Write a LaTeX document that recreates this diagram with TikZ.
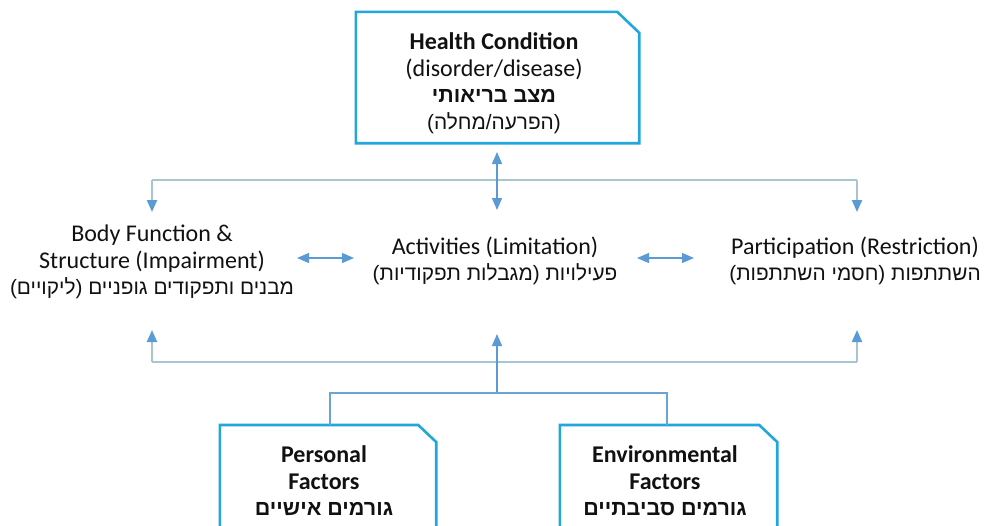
\documentclass[tikz,border=0pt]{standalone}
\usepackage{fontspec}
\setmainfont{Carlito}
\newfontfamily\heb[Script=Hebrew]{Liberation Sans}
\TeXXeTstate=1
\usetikzlibrary{arrows.meta}
\definecolor{boxc}{HTML}{22A7DC}
\definecolor{arr}{HTML}{5B9BD5}
\definecolor{lin}{HTML}{A8C6D2}
\definecolor{txt}{HTML}{111111}
\tikzset{
  lbl/.style={align=center, text=txt, inner sep=0pt, font=\fontsize{24}{26.5}\selectfont},
  boxframe/.style={draw=boxc, line width=2.6pt, line join=miter},
  ghost/.style={draw=none, inner sep=0pt},
  tip/.style={-{Triangle[width=10pt,length=12pt,color=arr,fill=arr]}},
  dtip/.style={{Triangle[width=10pt,length=12pt,color=arr,fill=arr]}-{Triangle[width=10pt,length=12pt,color=arr,fill=arr]}},
  thinline/.style={draw=arr, line width=1.3pt},
  lightline/.style={draw=lin, line width=2pt},
  thickline/.style={draw=lin, line width=2.6pt},
}
\newcommand{\hb}[1]{{\heb\fontsize{20.8}{26.5}\selectfont\beginR #1\endR}}
\newcommand{\hbb}[1]{{\heb\bfseries\fontsize{21.5}{26.5}\selectfont\beginR #1\endR}}
\begin{document}
\begin{tikzpicture}[x=1pt,y=-1pt]
\useasboundingbox[fill=white] (0,0) rectangle (984,525);

% boxes
\node[ghost, minimum width=283pt, minimum height=131pt] (hcbox) at (497.5,77.5) {};
\draw[boxframe] (hcbox.north west) -- ([xshift=-22pt]hcbox.north east) -- ([yshift=-21pt]hcbox.north east) -- (hcbox.south east) -- (hcbox.south west) -- cycle;
\node[lbl] (hc) at (494,83) {\textbf{Health Condition}\\(disorder/disease)\\\hbb{מצב בריאותי}\\\hb{(הפרעה/מחלה)}};

\node[ghost, minimum width=216pt, minimum height=140pt, anchor=north] (pfbox) at (328,425) {};
\draw[boxframe] (pfbox.south west) -- (pfbox.north west) -- ([xshift=-18pt]pfbox.north east) -- ([yshift=-17pt]pfbox.north east) -- (pfbox.south east);
\node[lbl] (pf) at (324,481) {\textbf{Personal}\\\textbf{Factors}\\\hbb{גורמים אישיים}};

\node[ghost, minimum width=217pt, minimum height=140pt, anchor=north] (efbox) at (668.5,425) {};
\draw[boxframe] (efbox.south west) -- (efbox.north west) -- ([xshift=-18pt]efbox.north east) -- ([yshift=-17pt]efbox.north east) -- (efbox.south east);
\node[lbl] (ef) at (665,481) {\textbf{Environmental}\\\textbf{Factors}\\\hbb{גורמים סביבתיים}};

% middle row
\node[lbl] (bf) at (152,262) {Body Function \&\\Structure (Impairment)\\\hb{מבנים ותפקודים גופניים (ליקויים)}};
\node[lbl] (ac) at (495,261) {Activities (Limitation)\\\hb{פעילויות (מגבלות תפקודיות)}};
\node[lbl] (pa) at (855,261) {Participation (Restriction)\\\hb{השתתפות (חסמי השתתפות)}};

% coordinates
\coordinate (tl) at (152,180);
\coordinate (tr) at (857,180);
\coordinate (tlb) at (152,212);
\coordinate (trb) at (857,212);
\coordinate (tmb) at (497,210);
\coordinate (tmt) at (497,152);
\coordinate (bl) at (152,362);
\coordinate (br) at (857,362);
\coordinate (blt) at (152,330);
\coordinate (brt) at (857,330);
\coordinate (bm) at (497,393);
\coordinate (bmt) at (497,334);
\coordinate (pl) at (330,393);
\coordinate (pr) at (667,393);
\coordinate (h1a) at (297,258);
\coordinate (h1b) at (354,258);
\coordinate (h2a) at (637,258);
\coordinate (h2b) at (694,258);

% top connectors
\draw[thickline] (tl) -- (tr);
\draw[lightline, tip] (tl) -- (tlb);
\draw[lightline, tip] (tr) -- (trb);
\draw[thinline, dtip] (tmt) -- (tmb);

% middle arrows
\draw[thinline, dtip] (h1a) -- (h1b);
\draw[thinline, dtip] (h2a) -- (h2b);

% bottom connectors
\draw[thickline] (bl) -- (br);
\draw[lightline, tip] (bl) -- (blt);
\draw[lightline, tip] (br) -- (brt);
\draw[thinline, tip] (bm) -- (bmt);
\draw[thinline, draw=arr!80!lin] (pfbox.north -| pl) -- (pl) -- (pr) -- (efbox.north -| pr);
\end{tikzpicture}
\end{document}
